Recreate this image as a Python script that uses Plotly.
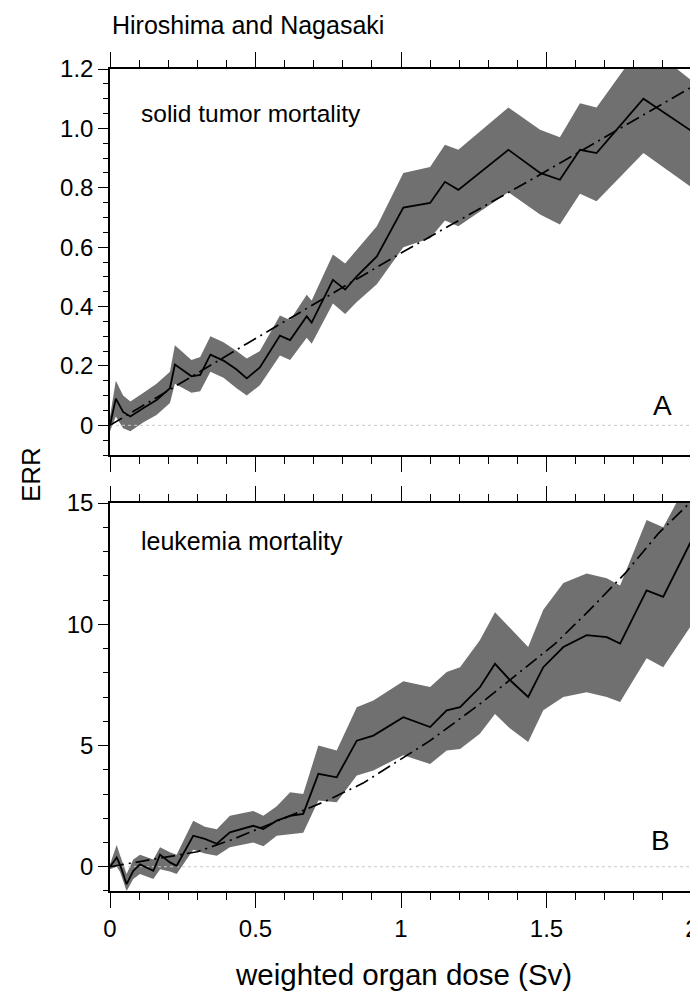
import plotly.graph_objects as go

# ---------------- data: panel A (solid tumor mortality) ----------------
a_dose = [0, 0.02, 0.045, 0.07, 0.115, 0.16, 0.206, 0.223, 0.28, 0.31, 0.345, 0.39, 0.435, 0.47,
          0.515, 0.584, 0.619, 0.676, 0.693, 0.766, 0.808, 0.848, 0.917, 1.008, 1.1, 1.151,
          1.197, 1.369, 1.478, 1.546, 1.615, 1.672, 1.833, 2.0]
a_err = [0.0, 0.09, 0.045, 0.03, 0.058, 0.085, 0.125, 0.205, 0.165, 0.17, 0.238, 0.218, 0.188, 0.158,
         0.195, 0.302, 0.287, 0.367, 0.346, 0.49, 0.457, 0.502, 0.569, 0.733, 0.749, 0.82,
         0.793, 0.928, 0.85, 0.827, 0.928, 0.917, 1.10, 0.99]
a_upper = [0.03, 0.15, 0.10, 0.08, 0.11, 0.14, 0.18, 0.27, 0.22, 0.23, 0.30, 0.28, 0.25, 0.225,
           0.25, 0.37, 0.355, 0.44, 0.42, 0.575, 0.545, 0.59, 0.67, 0.85, 0.87, 0.945,
           0.928, 1.07, 0.995, 0.97, 1.085, 1.07, 1.29, 1.16]
a_lower = [-0.02, 0.03, -0.01, -0.02, 0.01, 0.035, 0.075, 0.14, 0.11, 0.115, 0.18, 0.16, 0.125, 0.10,
           0.135, 0.235, 0.22, 0.295, 0.275, 0.41, 0.375, 0.415, 0.475, 0.60, 0.63, 0.69,
           0.67, 0.785, 0.71, 0.676, 0.78, 0.755, 0.917, 0.80]
a_fit_dose = [0, 0.47, 1.0, 1.47, 2.0]
a_fit_err = [0, 0.275, 0.58, 0.84, 1.14]

# ---------------- data: panel B (leukemia mortality) ----------------
b_dose = [0, 0.023, 0.034, 0.057, 0.08, 0.103, 0.149, 0.172, 0.206, 0.229, 0.286, 0.326, 0.367,
          0.412, 0.492, 0.527, 0.573, 0.619, 0.664, 0.716, 0.779, 0.848, 0.905, 1.008, 1.1,
          1.157, 1.203, 1.271, 1.323, 1.375, 1.437, 1.489, 1.558, 1.638, 1.707, 1.753, 1.844,
          1.901, 2.0]
b_err = [0, 0.38, 0.1, -0.72, -0.17, 0.1, -0.17, 0.5, 0.18, 0.04, 1.28, 1.15, 0.95,
         1.42, 1.69, 1.56, 1.9, 2.1, 2.18, 3.83, 3.69, 5.2, 5.41, 6.17, 5.76,
         6.45, 6.58, 7.4, 8.37, 7.69, 7.0, 8.23, 9.06, 9.55, 9.47, 9.2, 11.4,
         11.13, 13.5]
b_upper = [0.1, 0.9, 0.5, -0.3, 0.3, 0.5, 0.3, 0.8, 0.6, 0.5, 1.9, 1.65, 1.55,
           2.1, 2.3, 2.1, 2.5, 3.07, 3.0, 5.0, 4.79, 6.58, 6.86, 7.65, 7.41,
           8.03, 8.23, 9.34, 10.5, 9.85, 9.06, 10.6, 11.7, 12.09, 11.9, 11.6, 14.3,
           14.0, 16.2]
b_lower = [-0.1, 0.0, -0.2, -1.0, -0.5, -0.3, -0.5, -0.1, -0.2, -0.3, 0.7, 0.55, 0.45,
           0.8, 1.0, 0.85, 1.28, 1.35, 1.4, 2.73, 2.66, 3.76, 3.97, 4.6, 4.24,
           4.79, 4.86, 5.48, 6.3, 5.7, 5.14, 6.45, 7.0, 7.2, 7.0, 6.79, 8.6,
           8.23, 10.0]
b_fit_dose = [0, 0.3, 0.42, 0.74, 0.87, 1.1, 1.27, 1.53, 1.645, 1.77, 1.885, 2.0]
b_fit_err = [0, 0.62, 1.12, 2.7, 3.45, 5.2, 6.7, 9.2, 10.55, 12.1, 13.75, 15.1]

zero_x = [0, 2]
zero_y = [0, 0]

a_ticks = [0, 0.2, 0.4, 0.6, 0.8, 1.0, 1.2]
a_ticktext = ["0", "0.2", "0.4", "0.6", "0.8", "1.0", "1.2"]
b_ticks = [0, 5, 10, 15]
b_ticktext = ["0", "5", "10", "15"]
x_ticks = [0, 0.5, 1, 1.5, 2]
x_ticktext = ["0", "0.5", "1", "1.5", "2"]

FONT = "Liberation Sans, Arial, sans-serif"
BAND = "rgb(112,112,112)"

fig = go.Figure()


def add_panel(xs, ys, up, lo, fx, fy, xa, ya):
    fig.add_trace(go.Scatter(x=xs + xs[::-1], y=up + lo[::-1], fill="toself",
                             fillcolor=BAND, line=dict(width=0), mode="lines",
                             hoverinfo="skip", showlegend=False, xaxis=xa, yaxis=ya))
    fig.add_trace(go.Scatter(x=zero_x, y=zero_y, mode="lines",
                             line=dict(color="rgb(200,200,200)", width=1, dash="dot"),
                             showlegend=False, xaxis=xa, yaxis=ya))
    fig.add_trace(go.Scatter(x=fx, y=fy, mode="lines",
                             line=dict(color="black", width=1.7, dash="14px,5px,2px,5px"),
                             showlegend=False, xaxis=xa, yaxis=ya))
    fig.add_trace(go.Scatter(x=xs, y=ys, mode="lines",
                             line=dict(color="black", width=1.8),
                             showlegend=False, xaxis=xa, yaxis=ya))


add_panel(a_dose, a_err, a_upper, a_lower, a_fit_dose, a_fit_err, "x", "y")
add_panel(b_dose, b_err, b_upper, b_lower, b_fit_dose, b_fit_err, "x2", "y2")

common_x = dict(range=[0, 2], tickvals=x_ticks, ticktext=x_ticktext, showline=True,
                linecolor="black", linewidth=1.5, mirror="allticks", ticks="outside",
                ticklen=15, tickwidth=1.3, tickcolor="black", showgrid=False, zeroline=False,
                minor=dict(dtick=0.1, tick0=0, ticklen=7, tickwidth=1.2, tickcolor="black",
                           ticks="outside", showgrid=False),
                tickfont=dict(family=FONT, size=24, color="black"))
common_y = dict(showline=True, linecolor="black", linewidth=1.5, mirror="allticks",
                ticks="outside", ticklen=10, tickwidth=1.3, tickcolor="black",
                showgrid=False, zeroline=False,
                tickfont=dict(family=FONT, size=24, color="black"))

# page body adds an 8px offset, so margins are shifted accordingly
fig.update_layout(
    width=698, height=1006,
    margin=dict(l=102, r=14, t=61, b=123, autoexpand=False),
    paper_bgcolor="white", plot_bgcolor="white",
    showlegend=False,
    xaxis=dict(domain=[0, 1], anchor="y", showticklabels=False, **common_x),
    yaxis=dict(domain=[0.5304, 1], anchor="x", range=[-0.1, 1.2], tickvals=a_ticks,
               ticktext=a_ticktext,
               minor=dict(dtick=0.05, tick0=0, ticklen=5, tickwidth=1.2, tickcolor="black",
                          ticks="outside", showgrid=False),
               **common_y),
    xaxis2=dict(domain=[0, 1], anchor="y2", showticklabels=True, **common_x),
    yaxis2=dict(domain=[0, 0.472], anchor="x2", range=[-1, 15], tickvals=b_ticks,
                ticktext=b_ticktext,
                minor=dict(dtick=1, tick0=0, ticklen=5, tickwidth=1.2, tickcolor="black",
                           ticks="outside", showgrid=False),
                **common_y),
)

annos = [
    dict(text="Hiroshima and Nagasaki", xref="paper", yref="paper", x=0.0, y=1.0535,
         xanchor="left", yanchor="middle", font=dict(family=FONT, size=25)),
    dict(text="solid tumor mortality", xref="x", yref="y", x=0.1, y=1.05,
         xanchor="left", yanchor="middle", font=dict(family=FONT, size=24.5)),
    dict(text="leukemia mortality", xref="x2", yref="y2", x=0.1, y=13.44,
         xanchor="left", yanchor="middle", font=dict(family=FONT, size=25)),
    dict(text="A", xref="x", yref="y", x=1.897, y=0.067,
         xanchor="center", yanchor="middle", font=dict(family=FONT, size=28)),
    dict(text="B", xref="x2", yref="y2", x=1.893, y=1.1,
         xanchor="center", yanchor="middle", font=dict(family=FONT, size=28)),
    dict(text="ERR", xref="paper", yref="paper", x=-0.1357, y=0.506, textangle=-90,
         xanchor="center", yanchor="middle", font=dict(family=FONT, size=26)),
    dict(text="weighted organ dose (Sv)", xref="paper", yref="paper", x=0.505, y=-0.102,
         xanchor="center", yanchor="middle", font=dict(family=FONT, size=29.5)),
]
for a in annos:
    a["showarrow"] = False
    a["font"]["color"] = "black"
    fig.add_annotation(**a)

fig.write_html("out.html")
